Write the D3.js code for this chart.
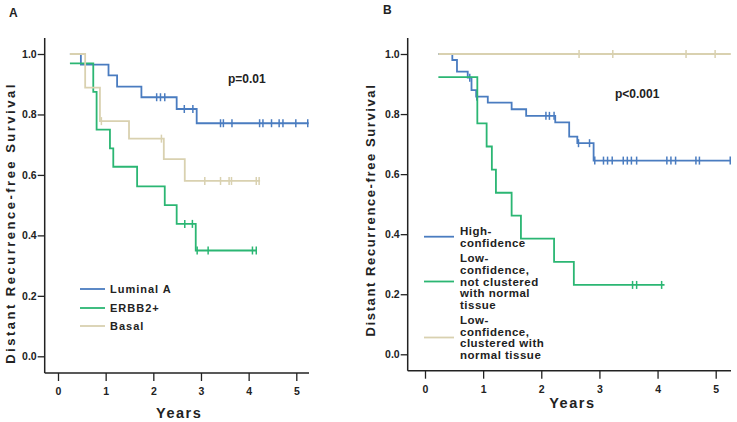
<!DOCTYPE html>
<html>
<head>
<meta charset="utf-8">
<script src="https://cdn.jsdelivr.net/npm/d3@7"></script>
<style>
  body { margin: 0; background: #fff; }
  svg { display: block; font-family: "Liberation Sans", Arial, sans-serif; font-weight: bold; }
</style>
</head>
<body>
<svg id="chart" width="737" height="422"></svg>
<script>
// ---- data: [time in years, survival] step starts ----
var lumA = [[0.25,1.0],[0.48,0.965],[1.06,0.929],[1.24,0.892],[1.75,0.857],[2.49,0.818],[2.91,0.771]]
var lumAEnd = 5.26
var lumACens = [2.07,2.15,2.24,2.65,2.83,3.41,3.47,3.65,4.23,4.30,4.48,4.64,4.72,4.99,5.24]

var erbb2 = [[0.25,0.969],[0.74,0.875],[0.81,0.75],[1.09,0.688],[1.16,0.627],[1.66,0.562],[2.24,0.5],[2.49,0.438],[2.89,0.35]]
var erbb2End = 4.16
var erbb2Cens = [2.66,2.82,2.92,3.15,4.08,4.16]

var basal = [[0.25,1.0],[0.57,0.889],[0.88,0.778],[1.49,0.72],[2.22,0.652],[2.66,0.58]]
var basalEnd = 4.24
var basalCens = [0.91,2.17,3.08,3.41,3.59,3.64,4.16,4.22]

var highConf = [[0.23,1.0],[0.47,0.98],[0.55,0.941],[0.735,0.921],[0.80,0.88],[0.88,0.858],[1.08,0.838],[1.49,0.816],[1.74,0.794],[2.24,0.772],[2.48,0.725],[2.62,0.703],[2.90,0.645]]
var highConfEnd = 5.26
var highConfCens = [0.77,0.89,2.08,2.14,2.22,2.64,2.83,2.92,3.07,3.14,3.22,3.41,3.48,3.55,3.64,4.16,4.23,4.31,4.66,4.72,5.25]

var lowNot = [[0.23,0.923],[0.90,0.769],[1.06,0.692],[1.15,0.615],[1.22,0.538],[1.49,0.462],[1.65,0.385],[2.22,0.308],[2.56,0.231]]
var lowNotEnd = 4.12
var lowNotCens = [3.57,3.64,4.07]

var lowClus = [[0.23,1.0]]
var lowClusEnd = 5.26
var lowClusCens = [2.65,3.23,4.49,4.99]

var xTicks = [0,1,2,3,4,5]
var yTicks = [0,0.2,0.4,0.6,0.8,1.0]

var blue = "#4a7cc0", green = "#2bb673", beige = "#d9d1b0"
var ink = "#222"

var svg = d3.select("#chart")

// panel geometry
var panels = [
    {
        letter: "A", lx: 9, ly: 17,
        x: d3.scaleLinear().domain([0,5]).range([58,296.3]),
        y: d3.scaleLinear().domain([0,1]).range([356.3,54]),
        axisX0: 44.7, axisX1: 309, axisY0: 38, axisY1: 373,
        yLabelX: 15, yLabelY: 223, yLabelSp: "2.5px", xLabelY: 418,
        p: "p=0.01", px: 228, py: 83,
        series: [
            {steps: lumA, end: lumAEnd, cens: lumACens, color: blue},
            {steps: erbb2, end: erbb2End, cens: erbb2Cens, color: green},
            {steps: basal, end: basalEnd, cens: basalCens, color: beige}
        ],
        legend: [
            {lines: ["Luminal A"], color: blue, y: 289},
            {lines: ["ERBB2+"], color: green, y: 308},
            {lines: ["Basal"], color: beige, y: 326}
        ],
        legX0: 80, legX1: 105, legTx: 110
    },
    {
        letter: "B", lx: 383, ly: 14,
        x: d3.scaleLinear().domain([0,5]).range([425,715.7]),
        y: d3.scaleLinear().domain([0,1]).range([354.3,54]),
        axisX0: 407.7, axisX1: 731, axisY0: 38, axisY1: 370.7,
        yLabelX: 375, yLabelY: 210, yLabelSp: "1.6px", xLabelY: 408,
        p: "p<0.001", px: 615, py: 98,
        series: [
            {steps: highConf, end: highConfEnd, cens: highConfCens, color: blue},
            {steps: lowNot, end: lowNotEnd, cens: lowNotCens, color: green},
            {steps: lowClus, end: lowClusEnd, cens: lowClusCens, color: beige}
        ],
        legend: [
            {lines: ["High-", "confidence"], color: blue, y: 236.7},
            {lines: ["Low-", "confidence,", "not clustered", "with normal", "tissue"], color: green, y: 281.5},
            {lines: ["Low-", "confidence,", "clustered with", "normal tissue"], color: beige, y: 337.5}
        ],
        legX0: 424, legX1: 454, legTx: 460
    }
]

// value of a step curve at time t
function survAt(steps, t) {
    var v = steps[0][1]
    steps.forEach(function(s) { if (s[0] <= t) v = s[1] })
    return v
}

// panel B y title is cut at the panel edge in the figure
svg.append("clipPath").attr("id", "clipB")
    .append("rect").attr("x", 363).attr("y", 0).attr("width", 25).attr("height", 422)

panels.forEach(function(P, pi) {
    var g = svg.append("g")

    // axes lines
    g.append("line").attr("x1", P.axisX0).attr("x2", P.axisX0)
        .attr("y1", P.axisY0).attr("y2", P.axisY1)
        .attr("stroke", ink).attr("stroke-width", 1.5)
    g.append("line").attr("x1", P.axisX0).attr("x2", P.axisX1)
        .attr("y1", P.axisY1).attr("y2", P.axisY1)
        .attr("stroke", ink).attr("stroke-width", 1.5)

    var yAxis = g.append("g").attr("transform", "translate(" + P.axisX0 + ",0)")
        .call(d3.axisLeft(P.y).tickValues(yTicks).tickFormat(d3.format(".1f")).tickSize(7).tickSizeOuter(0).tickPadding(1))
    var xAxis = g.append("g").attr("transform", "translate(0," + P.axisY1 + ")")
        .call(d3.axisBottom(P.x).tickValues(xTicks).tickFormat(d3.format("d")).tickSize(8).tickSizeOuter(0).tickPadding(7))
    ;[yAxis, xAxis].forEach(function(a) {
        a.select(".domain").remove()
        a.selectAll("line").attr("stroke", ink).attr("stroke-width", 1.3)
        a.selectAll("text").attr("fill", ink).style("font-size", "10.5px")
            .style("font-family", "'Liberation Sans', Arial, sans-serif").style("font-weight", "bold")
    })

    // axis titles
    var ylg = g.append("g")
    if (pi === 1) ylg.attr("clip-path", "url(#clipB)")
    ylg.append("text")
        .attr("transform", "translate(" + P.yLabelX + "," + P.yLabelY + ") rotate(-90)")
        .attr("text-anchor", "middle")
        .attr("fill", ink)
        .style("font-size", "13px").style("letter-spacing", P.yLabelSp)
        .text("Distant Recurrence-free Survival")
    g.append("text").attr("x", (P.x(0) + P.x(5)) / 2 + 2).attr("y", P.xLabelY)
        .attr("text-anchor", "middle").attr("fill", ink)
        .style("font-size", "14.5px").style("letter-spacing", "1.5px")
        .text("Years")

    g.append("text").attr("x", P.lx).attr("y", P.ly).attr("fill", ink)
        .style("font-size", "12px").text(P.letter)
    g.append("text").attr("x", P.px).attr("y", P.py).attr("fill", ink)
        .style("font-size", "12px").text(P.p)

    // curves
    var line = d3.line().curve(d3.curveStepAfter)
        .x(function(d) { return P.x(d[0]) })
        .y(function(d) { return P.y(d[1]) })
    P.series.forEach(function(s) {
        var pts = s.steps.concat([[s.end, s.steps[s.steps.length - 1][1]]])
        g.append("path").attr("d", line(pts)).attr("fill", "none")
            .attr("stroke", s.color).attr("stroke-width", 1.8)
        g.selectAll(null).data(s.cens).enter().append("line")
            .attr("x1", function(t) { return P.x(t) })
            .attr("x2", function(t) { return P.x(t) })
            .attr("y1", function(t) { return P.y(survAt(s.steps, t)) - 4 })
            .attr("y2", function(t) { return P.y(survAt(s.steps, t)) + 4 })
            .attr("stroke", s.color).attr("stroke-width", 1.5)
    })

    // legend
    P.legend.forEach(function(l) {
        g.append("line").attr("x1", P.legX0).attr("x2", P.legX1)
            .attr("y1", l.y).attr("y2", l.y)
            .attr("stroke", l.color).attr("stroke-width", 1.8)
        var lh = 11.7
        var top = l.y - (l.lines.length - 1) * lh / 2
        var t = g.append("text").attr("fill", ink)
            .style("font-size", pi === 0 ? "11px" : "11.5px")
            .style("letter-spacing", pi === 0 ? "1px" : "0.5px")
        l.lines.forEach(function(txt, i) {
            t.append("tspan").attr("x", P.legTx).attr("y", top + i * lh + 4).text(txt)
        })
    })
})
</script>
</body>
</html>
